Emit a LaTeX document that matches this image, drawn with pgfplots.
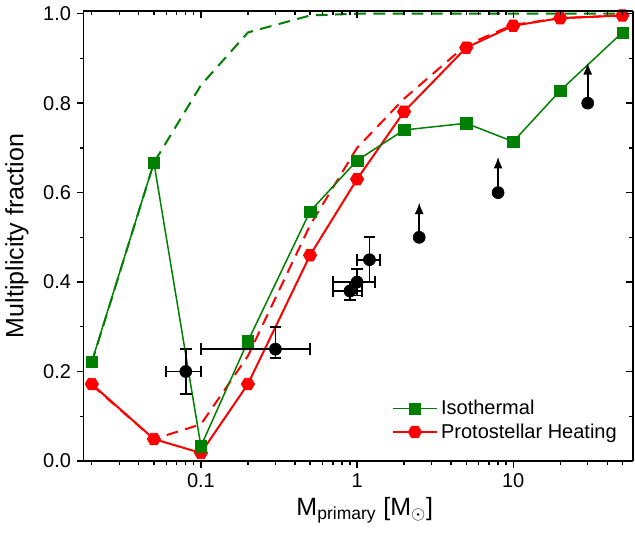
\documentclass[border=0pt]{standalone}
\usepackage{pgfplots}
\pgfplotsset{compat=1.18}
\usepackage{fontspec}
\setmainfont{Liberation Sans}
\usetikzlibrary{arrows.meta}
\definecolor{ogreen}{RGB}{0,128,0}
\pgfdeclareplotmark{hexagon*}{%
  \pgfpathmoveto{\pgfpointpolar{0}{\pgfplotmarksize}}%
  \pgfpathlineto{\pgfpointpolar{60}{\pgfplotmarksize}}%
  \pgfpathlineto{\pgfpointpolar{120}{\pgfplotmarksize}}%
  \pgfpathlineto{\pgfpointpolar{180}{\pgfplotmarksize}}%
  \pgfpathlineto{\pgfpointpolar{240}{\pgfplotmarksize}}%
  \pgfpathlineto{\pgfpointpolar{300}{\pgfplotmarksize}}%
  \pgfpathclose
  \pgfusepathqfillstroke}
\begin{document}
\begin{tikzpicture}
\begin{axis}[name=ax,
  scale only axis, width=329.7pt, height=270pt,
  xmode=log, log basis x=10,
  xmin=0.0177, xmax=58.5, ymin=0, ymax=1.006,
  xtick={0.1,1,10},
  minor xtick={0.02,0.03,0.04,0.05,0.06,0.07,0.08,0.09,0.2,0.3,0.4,0.5,0.6,0.7,0.8,0.9,2,3,4,5,6,7,8,9,20,30,40,50},
  ytick={0,0.2,0.4,0.6,0.8,1.0},
  minor ytick={0.1,0.3,0.5,0.7,0.9},
  major tick length=4pt, minor tick length=2.4pt,
  every tick/.style={black, line width=0.8pt},
  axis line style={line width=0.9pt},
  axis x line*=bottom, axis y line*=left, tick align=outside,
  xticklabels={0.1,1,10},
  yticklabel style={/pgf/number format/.cd, fixed, fixed zerofill, precision=1, assume math mode=true},
  tick label style={font=\fontsize{12}{14}\selectfont},
  ylabel={Multiplicity fraction},
  xlabel={M\textsubscript{primary} [M$_\odot$]},
  label style={font=\fontsize{15}{17}\selectfont},
  ylabel style={at={(axis description cs:-0.121,0.5)}, anchor=center},
  xlabel style={at={(axis description cs:0.512,-0.11)}, anchor=center},
  legend style={at={(axis description cs:0.555,0.03)}, anchor=south west, draw=none, fill=none,
    font=\fontsize{12}{14}\selectfont, row sep=0pt, inner sep=2pt},
  legend cell align=left,
  reverse legend,
  legend image code/.code={\draw[mark repeat=2,mark phase=2,#1] plot coordinates {(0cm,0cm) (0.46cm,0cm) (0.92cm,0cm)};},
]
\addplot[ogreen, line width=1.2pt, dashed, dash pattern=on 7pt off 4.5pt, forget plot] coordinates {
 (0.02,0.22) (0.05,0.667) (0.1,0.84) (0.2,0.958) (0.5,0.996) (1,1.0) (2,1.0) (5,1.0) (10,1.0) (20,1.0) (50,1.0)};
\addplot[red, line width=1.2pt, dashed, dash pattern=on 7pt off 4.5pt, forget plot] coordinates {
 (0.02,0.17) (0.05,0.049) (0.1,0.082) (0.2,0.235) (0.5,0.527) (1,0.70) (2,0.81) (5,0.93) (10,0.975) (20,0.99) (50,0.996)};
\addplot[red, line width=1.2pt, mark=hexagon*, mark size=4pt, mark options={solid, fill=red, draw=red, line width=0.4pt}] coordinates {
 (0.02,0.172) (0.05,0.049) (0.1,0.018) (0.2,0.172) (0.5,0.46) (1,0.63) (2,0.781) (5,0.924) (10,0.973) (20,0.99) (50,0.996)};
\addlegendentry{Protostellar Heating}
\addplot[ogreen, line width=0.9pt, mark=square*, mark size=3.4pt, mark options={solid, fill=ogreen, draw=ogreen, line width=0.2pt}] coordinates {
 (0.02,0.222) (0.05,0.667) (0.1,0.033) (0.2,0.268) (0.5,0.558) (1,0.672) (2,0.740) (5,0.755) (10,0.714) (20,0.828) (50,0.958)};
\addlegendentry{Isothermal}
\addplot[black, line width=1.1pt, mark=|, mark size=3.5pt, forget plot] coordinates {(0.06,0.2) (0.1,0.2)};
\addplot[black, line width=1.1pt, mark=-, mark size=3.5pt, forget plot] coordinates {(0.08,0.15) (0.08,0.25)};
\addplot[black, line width=1.1pt, mark=|, mark size=3.5pt, forget plot] coordinates {(0.1,0.25) (0.5,0.25)};
\addplot[black, line width=1.1pt, mark=-, mark size=3.5pt, forget plot] coordinates {(0.3,0.23) (0.3,0.30)};
\addplot[black, line width=1.1pt, mark=|, mark size=3.5pt, forget plot] coordinates {(0.7,0.38) (1.08,0.38)};
\addplot[black, line width=1.1pt, mark=-, mark size=3.5pt, forget plot] coordinates {(0.9,0.36) (0.9,0.40)};
\addplot[black, line width=1.1pt, mark=|, mark size=3.5pt, forget plot] coordinates {(0.7,0.40) (1.3,0.40)};
\addplot[black, line width=1.1pt, mark=-, mark size=3.5pt, forget plot] coordinates {(1.0,0.37) (1.0,0.43)};
\addplot[black, line width=1.1pt, mark=|, mark size=3.5pt, forget plot] coordinates {(1.0,0.45) (1.4,0.45)};
\addplot[black, line width=1.1pt, mark=-, mark size=3.5pt, forget plot] coordinates {(1.2,0.40) (1.2,0.50)};
\addplot[black, line width=1.1pt, -{Latex[length=7pt,width=5.5pt]}, forget plot] coordinates {(2.5,0.5) (2.5,0.578)};
\addplot[black, line width=1.1pt, -{Latex[length=7pt,width=5.5pt]}, forget plot] coordinates {(8,0.6) (8,0.68)};
\addplot[black, line width=1.1pt, -{Latex[length=7pt,width=5.5pt]}, forget plot] coordinates {(30,0.8) (30,0.89)};
\addplot[only marks, mark=*, mark size=3.6pt, black, forget plot] coordinates {
 (0.08,0.2) (0.3,0.25) (0.9,0.38) (1.0,0.40) (1.2,0.45) (2.5,0.5) (8,0.6) (30,0.8)};
\end{axis}
\begin{axis}[
  scale only axis, width=329.7pt, height=270pt,
  xmode=log, log basis x=10,
  xmin=0.0177, xmax=58.5, ymin=0, ymax=1.006,
  xtick={0.1,1,10},
  minor xtick={0.02,0.03,0.04,0.05,0.06,0.07,0.08,0.09,0.2,0.3,0.4,0.5,0.6,0.7,0.8,0.9,2,3,4,5,6,7,8,9,20,30,40,50},
  ytick={0,0.2,0.4,0.6,0.8,1.0},
  minor ytick={0.1,0.3,0.5,0.7,0.9},
  major tick length=4pt, minor tick length=2.4pt,
  every tick/.style={black, line width=0.8pt},
  axis line style={line width=0.9pt},
  axis x line*=top, axis y line*=right, tick align=inside,
  xticklabels={}, yticklabels={},
]
\addplot[draw=none, forget plot] coordinates {(1,0.5)};
\end{axis}
\pgfresetboundingbox
\path[use as bounding box] ([xshift=-50.1pt,yshift=-48pt]ax.south west) rectangle ([xshift=1.2pt,yshift=6.6pt]ax.north east);
\end{tikzpicture}
\end{document}
